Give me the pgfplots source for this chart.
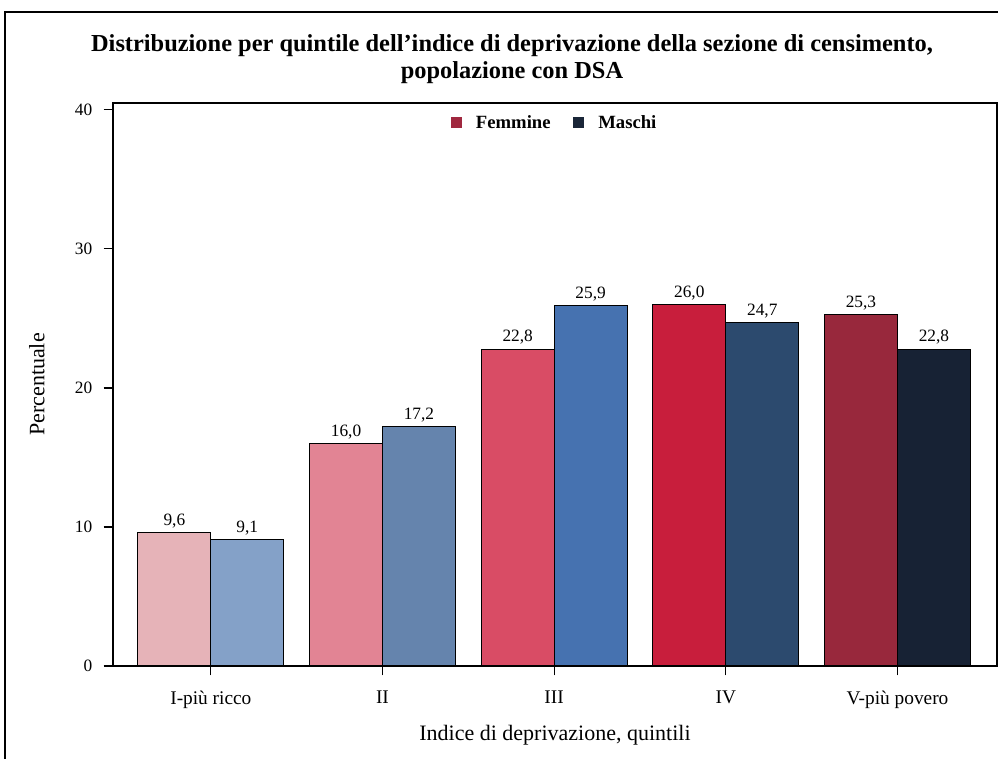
\documentclass[border=0pt]{standalone}
\usepackage{fontspec}
\setmainfont{Liberation Serif}
\usepackage{pgfplots}
\pgfplotsset{compat=1.18}
\definecolor{fA}{HTML}{E6B3B8}\definecolor{mA}{HTML}{84A1C8}
\definecolor{fB}{HTML}{E28494}\definecolor{mB}{HTML}{6584AD}
\definecolor{fC}{HTML}{D94C65}\definecolor{mC}{HTML}{4672B0}
\definecolor{fD}{HTML}{C81E3C}\definecolor{mD}{HTML}{2C4A6E}
\definecolor{fE}{HTML}{98283C}\definecolor{mE}{HTML}{172234}
\definecolor{fL}{HTML}{A0283F}\definecolor{mL}{HTML}{1A2638}
\begin{document}
\begin{tikzpicture}[x=0.75pt,y=0.75pt]
\begin{axis}[
  scale only axis,
  width=663pt, height=422.25pt,
  ybar, bar width=0.425,
  xmin=-0.57, xmax=4.58, ymin=0, ymax=40.5,
  xtick={0,1,2,3,4},
  xticklabels={I-più ricco,II,III,IV,V-più povero},
  ytick={0,10,20,30,40},
  tick align=outside, tick pos=left,
  major tick length=7pt,
  tick style={black, line width=0.8pt},
  axis line style={line width=1pt},
  xticklabel style={font=\fontsize{14.5}{16}\selectfont, yshift=-8pt},
  yticklabel style={font=\fontsize{13}{15}\selectfont, xshift=-5pt},
  /pgf/number format/assume math mode=true,
  xlabel={Indice di deprivazione, quintili},
  ylabel={Percentuale},
  label style={font=\fontsize{16.5}{18}\selectfont},
  xlabel style={yshift=-5.5pt},
  ylabel style={yshift=16pt},
  every axis plot/.append style={draw=black, line width=0.8pt},
  nodes near coords={\pgfmathprintnumber[fixed,fixed zerofill,precision=1,use comma]{\pgfplotspointmeta}},
  every node near coord/.append style={font=\fontsize{13}{15}\selectfont, black, inner sep=3pt},
  legend style={draw=none, fill=none, at={(0.5,0.988)}, anchor=north, legend columns=2, font=\bfseries\fontsize{14}{16}\selectfont, /tikz/every even column/.append style={column sep=15pt}},
  legend cell align=left,
]
\coordinate (ll) at (rel axis cs:0,0);
\addlegendimage{legend image code/.code={\fill[fL] (0pt,-3.6pt) rectangle (7.2pt,3.6pt); \path (16pt,0pt);}}
\addlegendentry{Femmine}
\addlegendimage{legend image code/.code={\fill[mL] (0pt,-3.6pt) rectangle (7.2pt,3.6pt); \path (16pt,0pt);}}
\addlegendentry{Maschi}
\addplot[fill=fA, bar shift=-0.2125, forget plot] coordinates {(0,9.6)};
\addplot[fill=mA, bar shift=0.2125, forget plot] coordinates {(0,9.1)};
\addplot[fill=fB, bar shift=-0.2125, forget plot] coordinates {(1,16.0)};
\addplot[fill=mB, bar shift=0.2125, forget plot] coordinates {(1,17.2)};
\addplot[fill=fC, bar shift=-0.2125, forget plot] coordinates {(2,22.8)};
\addplot[fill=mC, bar shift=0.2125, forget plot] coordinates {(2,25.9)};
\addplot[fill=fD, bar shift=-0.2125, forget plot] coordinates {(3,26.0)};
\addplot[fill=mD, bar shift=0.2125, forget plot] coordinates {(3,24.7)};
\addplot[fill=fE, bar shift=-0.2125, forget plot] coordinates {(4,25.3)};
\addplot[fill=mE, bar shift=0.2125, forget plot] coordinates {(4,22.8)};
\end{axis}
\coordinate (O) at ([shift={(-113,-93)}]ll);
\draw[line width=1.2pt] ([shift={(5,0)}]O) -- ([shift={(5,747)}]O) -- ([shift={(998,747)}]O);
\node[font=\bfseries\fontsize{18.3}{20.5}\selectfont, align=center] at ([shift={(512,700)}]O) {Distribuzione per quintile dell'indice di deprivazione della sezione di censimento,\\popolazione con DSA};
\pgfresetboundingbox
\path[use as bounding box] (O) rectangle ([shift={(998,759)}]O);
\end{tikzpicture}
\end{document}
